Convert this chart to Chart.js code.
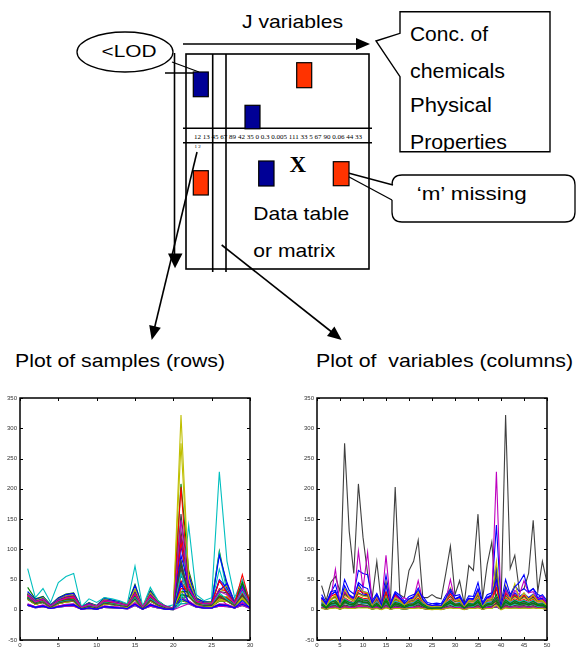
<!DOCTYPE html>
<html><head><meta charset="utf-8">
<script src="https://cdn.jsdelivr.net/npm/chart.js@4/dist/chart.umd.min.js"></script>
<style>
html,body{margin:0;padding:0;background:#fff;width:576px;height:650px;overflow:hidden}
#wrap{position:relative;width:576px;height:650px}
svg{position:absolute;left:0;top:0}
canvas{position:absolute}
text{font-family:"Liberation Sans",Arial,sans-serif;fill:#000}
</style></head><body>
<div id="wrap">
<svg width="576" height="650" viewBox="0 0 576 650">
  <defs><clipPath id="concClip"><rect x="400" y="11.7" width="150" height="140"/></clipPath></defs>
  <g stroke="#000" stroke-width="1.6" fill="none">
    <line x1="183" y1="44" x2="358" y2="44"/>
    <rect x="186" y="54" width="183" height="215"/>
    <line x1="212.7" y1="54" x2="212.7" y2="272"/>
    <line x1="226" y1="54" x2="226" y2="272"/>
    <line x1="183" y1="128.3" x2="372" y2="128.3"/>
    <line x1="183" y1="142.7" x2="372" y2="142.7"/>
    <line x1="174.5" y1="53" x2="174.5" y2="256"/>
    <ellipse cx="125" cy="52" rx="48" ry="20" stroke-width="1.3"/>
    <line x1="172" y1="62" x2="199" y2="72" stroke-width="1.3"/>
    <line x1="165" y1="73" x2="199" y2="73" stroke-width="1.3"/>
    <path d="M400 33.3 V11.7 H550 V151.7 H400 V76.7 L376 41 Z" stroke-width="1.4"/>
    <path d="M392 200 V212 Q392 222 402 222 H565 Q575 222 575 212 V185 Q575 175 565 175 H402 Q392 175 392 185" stroke-width="1.3"/>
    <line x1="337" y1="170" x2="393" y2="185" stroke-width="1.3"/>
    <line x1="337" y1="170.5" x2="392" y2="200" stroke-width="1.3"/>
    <line x1="197" y1="152" x2="154" y2="330"/>
    <line x1="221.7" y1="245" x2="333" y2="333"/>
  </g>
  <g fill="#000" stroke="none">
    <polygon points="356,38 370,44 356,50"/>
    <polygon points="168,253.5 175,268.3 182.5,253.5"/>
    <polygon points="160.8,327.8 151.7,340 149.2,325"/>
    <polygon points="327,336 341.7,340 334.4,326.6"/>
  </g>
  <g stroke="#000" stroke-width="1.2">
    <rect x="193.3" y="72" width="15" height="24.7" fill="#000096"/>
    <rect x="296.7" y="62.7" width="15" height="25" fill="#FF3300"/>
    <rect x="245" y="105.3" width="15" height="23.5" fill="#000096"/>
    <rect x="193.3" y="170.7" width="15" height="24.3" fill="#FF3300"/>
    <rect x="258.7" y="161" width="15.3" height="25" fill="#000096"/>
    <rect x="333.3" y="161.7" width="15.7" height="24" fill="#FF3300"/>
  </g>
  <text x="242" y="27.5" font-size="19" textLength="101" lengthAdjust="spacingAndGlyphs">J variables</text>
  <text x="101.5" y="57" font-size="17" textLength="55" lengthAdjust="spacingAndGlyphs">&lt;LOD</text>
  <g clip-path="url(#concClip)">
    <text x="410" y="40.7" font-size="19.5" textLength="78" lengthAdjust="spacingAndGlyphs">Conc. of</text>
    <text x="410" y="78.3" font-size="19.5" textLength="95" lengthAdjust="spacingAndGlyphs">chemicals</text>
    <text x="410" y="111.7" font-size="19.5" textLength="82" lengthAdjust="spacingAndGlyphs">Physical</text>
    <text x="410" y="148.5" font-size="19.5" textLength="97" lengthAdjust="spacingAndGlyphs">Properties</text>
  </g>
  <text x="416.7" y="200" font-size="19" textLength="110" lengthAdjust="spacingAndGlyphs">‘m’ missing</text>
  <text x="194" y="139" font-size="7" style="font-family:'Liberation Serif',serif;fill:#000" textLength="168" lengthAdjust="spacingAndGlyphs">12 13 45 67 89 42 35 0 0.3 0.005 111 33 5 67 90 0.06 44 33</text>
  <text x="194.5" y="148" font-size="5" style="font-family:'Liberation Serif',serif">1 2</text>
  <text x="289.5" y="171.7" font-size="23" font-weight="bold" style="font-family:'Liberation Serif',serif">X</text>
  <text x="253.3" y="220" font-size="19" textLength="96" lengthAdjust="spacingAndGlyphs">Data table</text>
  <text x="253.3" y="256.5" font-size="19" textLength="82" lengthAdjust="spacingAndGlyphs">or matrix</text>
  <text x="15" y="366.7" font-size="18.6" textLength="210" lengthAdjust="spacingAndGlyphs">Plot of samples (rows)</text>
  <text x="316" y="366.7" font-size="18.6" textLength="257" lengthAdjust="spacingAndGlyphs" style="white-space:pre">Plot of  variables (columns)</text>
</svg>
<canvas id="c1" width="260" height="260" style="left:0px;top:390px;width:260px;height:260px"></canvas>
<canvas id="c2" width="260" height="260" style="left:297px;top:390px;width:260px;height:260px"></canvas>
</div>
<script>
// ---- data: rows = samples (50), columns = variables (30) ----
const variableIndex = [1,2,3,4,5,6,7,8,9,10,11,12,13,14,15,16,17,18,19,20,21,22,23,24,25,26,27,28,29,30];
const sampleIndex = [1,2,3,4,5,6,7,8,9,10,11,12,13,14,15,16,17,18,19,20,21,22,23,24,25,26,27,28,29,30,31,32,33,34,35,36,37,38,39,40,41,42,43,44,45,46,47,48,49,50];
const yTickValues = [-50,0,50,100,150,200,250,300,350];
const xTickValuesSamples = [0,5,10,15,20,25,30];
const xTickValuesVariables = [0,5,10,15,20,25,30,35,40,45,50];
const matlabColors = ['#0000FF','#008000','#FF0000','#00BFBF','#BF00BF','#BFBF00','#404040'];
const dataMatrix = [
[20,10,14,5,12,15,16,3,7,4,12,10,8,5,20,3,18,9,4,2,40,25,10,8,7,18,16,8,20,8],
[8,4,6,2,5,7,8,1,3,1,5,4,3,2,9,1,8,4,1,1,15,12,5,3,3,8,7,3,9,3],
[24,13,16,6,13,17,18,3,8,5,14,12,9,6,25,3,22,10,4,2,45,28,12,9,8,20,18,9,30,10],
[30,15,22,8,16,20,22,4,10,6,16,14,11,7,30,4,26,12,5,3,55,42,15,11,10,67,24,11,32,12],
[10,5,8,3,6,9,10,1,4,2,6,5,4,2,12,1,10,5,2,1,30,14,6,4,4,10,9,4,12,4],
[28,16,20,7,18,24,26,4,11,6,18,15,12,8,35,4,30,14,5,3,275,50,16,12,12,30,35,12,40,14],
[22,12,15,5,14,18,20,3,8,4,13,11,9,6,24,3,20,10,4,2,130,32,12,9,8,22,20,9,25,9],
[18,10,12,4,11,14,15,2,6,3,11,9,7,5,18,2,16,8,3,2,60,26,10,7,7,16,15,7,20,8],
[37,18,22,8,20,26,28,5,12,7,20,16,13,9,42,5,32,15,6,3,208,65,20,13,13,97,38,14,45,16],
[26,15,19,7,17,22,24,4,10,6,17,14,12,8,30,4,28,13,5,3,120,60,16,12,11,35,30,12,38,13],
[25,14,18,7,16,21,23,4,10,5,16,14,11,7,28,4,26,12,5,3,60,58,15,11,10,95,28,11,35,12],
[9,5,7,2,6,8,9,1,3,2,6,5,4,2,10,1,9,5,2,1,20,15,6,4,4,9,8,4,11,4],
[21,11,15,5,13,16,17,3,7,4,13,11,9,6,22,3,19,9,4,2,80,27,11,8,8,20,22,8,24,9],
[7,4,6,2,5,6,7,1,3,1,4,4,3,2,8,1,7,3,1,0,10,11,4,3,3,7,6,3,8,3],
[30,17,21,8,19,25,27,5,11,7,19,16,13,8,40,5,30,14,6,3,45,57,18,13,12,90,45,13,42,15],
[8,4,6,2,5,7,8,1,3,1,5,4,3,2,9,1,8,4,1,1,20,13,5,3,3,8,7,3,9,3],
[23,12,16,6,13,17,18,3,8,4,14,12,9,6,26,3,24,10,4,2,203,30,12,9,9,22,20,9,28,10],
[19,10,13,4,11,14,15,2,6,3,11,9,7,5,19,2,17,8,3,2,25,24,10,7,7,17,15,7,20,8],
[9,5,7,3,6,8,9,1,3,2,6,5,4,2,11,1,9,5,2,1,20,14,6,4,4,20,8,4,10,4],
[18,9,12,4,10,13,14,2,6,3,10,9,7,4,17,2,15,8,3,2,65,22,9,7,6,15,16,7,18,7],
[20,10,14,5,12,15,16,3,7,4,12,10,8,5,20,3,18,9,4,2,80,25,10,8,7,18,17,8,22,8],
[27,15,19,7,17,22,24,4,10,6,17,14,12,8,32,4,27,13,5,3,115,30,16,11,11,48,30,12,36,13],
[17,9,12,4,10,13,14,2,6,3,10,8,7,4,16,2,14,7,3,2,20,22,9,6,6,14,14,6,17,7],
[8,4,6,2,5,7,8,1,3,1,5,4,3,2,9,1,8,4,1,1,20,12,5,3,3,8,7,3,9,3],
[7,3,5,2,4,6,7,1,2,1,4,3,3,1,7,1,6,3,1,0,25,10,4,3,3,6,5,3,7,2],
[8,4,6,2,5,6,7,1,3,1,5,4,3,2,8,1,7,4,1,1,20,11,5,3,3,7,6,3,8,3],
[7,4,5,2,4,6,6,1,2,1,4,3,3,2,7,1,6,3,1,0,18,10,4,3,3,6,6,3,7,3],
[19,10,13,4,11,14,15,2,6,3,11,9,7,5,18,2,16,8,3,2,60,24,10,7,7,16,15,7,19,8],
[26,14,18,7,16,22,22,4,10,5,16,14,11,7,30,4,26,12,5,3,105,35,15,11,10,50,36,11,34,12],
[18,9,13,4,10,13,14,2,6,3,10,9,7,4,17,2,15,8,3,2,25,23,9,7,6,15,15,7,18,7],
[20,10,14,5,12,15,16,3,7,4,12,10,8,5,21,3,18,9,4,2,48,25,10,8,7,18,17,8,22,8],
[7,4,5,2,4,6,7,1,2,1,4,3,3,2,7,1,6,3,1,0,10,10,4,3,3,6,6,3,8,3],
[19,10,13,4,11,14,15,2,6,3,11,9,7,5,18,2,16,8,3,2,73,23,10,7,7,16,15,7,19,8],
[18,9,13,4,10,13,14,2,6,3,10,9,7,4,17,2,15,8,3,2,65,22,9,7,6,15,14,7,18,7],
[26,15,19,7,17,22,24,4,10,6,17,14,12,8,32,4,27,13,5,3,158,45,16,11,11,30,28,12,35,13],
[8,4,6,2,5,7,8,1,3,1,5,4,3,2,9,1,8,4,1,1,18,12,5,3,3,8,7,3,9,3],
[20,10,14,5,12,15,16,3,7,4,12,10,8,5,20,3,18,9,4,2,75,25,10,8,7,18,17,8,21,8],
[22,11,15,5,13,16,17,3,8,4,13,11,9,6,23,3,20,10,4,2,112,28,11,8,8,20,18,9,25,9],
[68,20,35,12,45,55,60,5,18,12,20,18,15,10,72,5,37,15,5,8,10,140,25,15,20,228,80,20,50,15],
[7,3,5,2,4,6,6,1,2,1,4,3,3,1,7,1,6,3,1,0,5,10,4,3,3,6,5,3,7,2],
[27,15,20,7,17,22,24,4,10,6,17,14,12,8,33,4,28,13,5,3,322,50,16,11,11,32,40,12,38,13],
[20,10,14,5,12,15,16,3,7,4,12,10,8,5,20,3,18,9,4,2,68,25,10,8,7,18,17,8,22,8],
[25,14,18,7,16,21,23,4,10,5,16,14,11,7,28,4,25,12,5,3,90,40,15,11,10,32,43,11,38,12],
[21,11,15,5,13,16,17,3,7,4,13,11,9,6,22,3,19,9,4,2,30,30,11,8,8,25,18,9,45,9],
[24,13,17,6,15,20,22,4,9,5,15,13,10,7,27,4,24,11,5,3,35,35,14,10,10,48,28,10,58,11],
[20,10,14,5,12,15,16,3,7,4,12,10,8,5,20,3,18,9,4,2,60,28,10,8,7,28,17,8,30,8],
[24,13,17,6,15,19,21,4,9,5,15,13,10,7,26,4,23,11,5,3,148,35,14,10,10,30,25,10,35,11],
[18,9,13,4,10,13,14,2,6,3,10,9,7,4,17,2,15,8,3,2,30,25,9,7,6,18,14,7,20,7],
[19,10,13,4,11,14,15,2,6,3,11,9,7,5,18,2,16,8,3,2,80,22,10,7,7,22,15,7,25,8],
[8,4,6,2,5,7,8,1,3,1,5,4,3,2,9,1,8,4,1,1,45,12,5,3,3,8,7,3,15,3]
];

function makeSets(lines, xs){
  return lines.map((vals,i)=>({
    data: vals.map((v,j)=>({x:xs[j], y:v})),
    borderColor: matlabColors[i % matlabColors.length],
    borderWidth: 1.1,
    pointRadius: 0,
    fill: false,
    tension: 0,
    order: lines.length - i
  }));
}
const rowLines = dataMatrix;                                        // one line per sample
const colLines = variableIndex.map((_,j)=>dataMatrix.map(r=>r[j])); // one line per variable

const boxPlugin = {
  id:'matlabBox',
  afterDatasetsDraw(chart){
    const {ctx, chartArea:a, scales:{x,y}} = chart;
    ctx.save();
    ctx.strokeStyle='#000'; ctx.lineWidth=1.5;
    ctx.strokeRect(a.left, a.top, a.right-a.left, a.bottom-a.top);
    ctx.lineWidth=1;
    const tl=3;
    ctx.beginPath();
    x.ticks.forEach(t=>{
      const px=Math.round(x.getPixelForValue(t.value))+0.5;
      ctx.moveTo(px,a.bottom); ctx.lineTo(px,a.bottom-tl);
      ctx.moveTo(px,a.top); ctx.lineTo(px,a.top+tl);
    });
    y.ticks.forEach(t=>{
      const py=Math.round(y.getPixelForValue(t.value))+0.5;
      ctx.moveTo(a.left,py); ctx.lineTo(a.left+tl,py);
      ctx.moveTo(a.right,py); ctx.lineTo(a.right-tl,py);
    });
    ctx.stroke();
    ctx.restore();
  }
};

function makeChart(id, sets, xTicks){
  return new Chart(document.getElementById(id), {
    type:'line',
    data:{datasets:sets},
    options:{
      responsive:false, animation:false, devicePixelRatio:1,
      layout:{padding:{top:8,right:10,left:0,bottom:0}},
      plugins:{legend:{display:false}, tooltip:{enabled:false}},
      scales:{
        x:{type:'linear', min:xTicks[0], max:xTicks[xTicks.length-1],
           afterBuildTicks(s){ s.ticks = xTicks.map(v=>({value:v})); },
           ticks:{font:{size:6,family:'Liberation Sans'}, color:'#333', padding:2, maxRotation:0, autoSkip:false},
           grid:{display:false, drawTicks:false}, border:{display:false},
           afterFit(s){ s.height=10; }},
        y:{type:'linear', min:yTickValues[0], max:yTickValues[yTickValues.length-1],
           afterBuildTicks(s){ s.ticks = yTickValues.map(v=>({value:v})); },
           ticks:{font:{size:6,family:'Liberation Sans'}, color:'#333', padding:3, autoSkip:false},
           grid:{display:false, drawTicks:false}, border:{display:false},
           afterFit(s){ s.width=20; }}
      }
    },
    plugins:[boxPlugin]
  });
}
makeChart('c1', makeSets(rowLines, variableIndex), xTickValuesSamples);
makeChart('c2', makeSets(colLines, sampleIndex), xTickValuesVariables);
</script>
</body></html>
